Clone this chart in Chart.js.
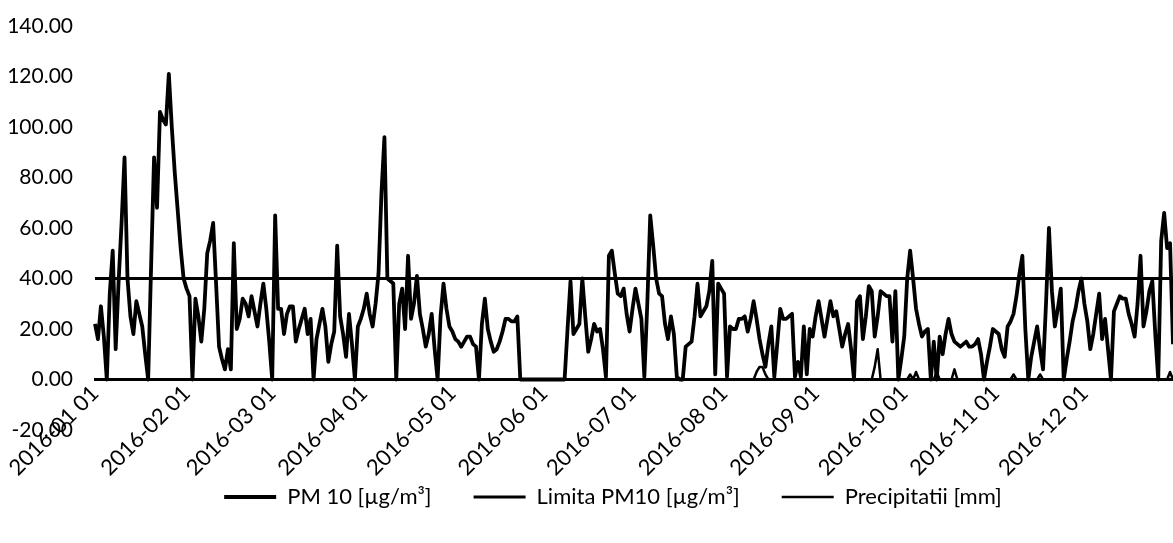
<!DOCTYPE html>
<html lang="ro">
<head>
<meta charset="UTF-8">
<title>PM 10 si precipitatii 2016</title>
<script src="https://cdn.jsdelivr.net/npm/chart.js"></script>
<style>
  body { margin: 0; background: #fff; }
  #wrap { width: 1173px; height: 543px; }
</style>
</head>
<body>
<div id="wrap"><canvas id="chart"></canvas></div>
<script>
// daily PM10 concentration, 2016-01-01 .. 2016-12-31
const pm10 = [
  22,16,29,17,0,34,51,12,39,62,
  88,40,25,18,31,26,21,10,0,45,
  88,68,106,103,101,121,100,82,67,52,
  40,36,33,0,32,25,15,28,50,55,
  62,38,13,8,4,12,4,54,20,24,
  32,30,25,33,27,21,30,38,28,15,
  0,65,28,28,18,26,29,29,15,20,
  24,28,18,24,0,16,22,28,21,7,
  14,19,53,25,18,9,26,14,0,21,
  24,28,34,26,21,30,42,74,96,40,
  39,38,0,30,36,20,49,24,30,41,
  26,20,13,18,26,12,0,25,38,28,
  21,19,16,15,13,15,17,17,14,13,
  0,22,32,20,15,11,12,15,19,24,
  24,23,23,25,0,0,0,0,0,0,
  0,0,0,0,0,0,0,0,0,0,
  20,39,18,20,22,40,25,11,16,22,
  19,20,12,1,49,51,42,34,33,36,
  26,19,28,36,30,24,1,30,65,53,
  40,34,33,22,16,25,18,1,0,0,
  13,14,15,25,38,25,27,29,35,47,
  2,38,36,34,1,21,20,20,24,24,
  25,19,24,31,24,16,10,5,14,21,
  1,14,28,24,24,25,26,1,7,1,
  21,2,20,17,25,31,24,17,24,31,
  25,27,20,13,18,22,12,0,31,33,
  16,25,37,35,17,25,35,34,33,33,
  15,35,0,8,17,40,51,40,28,22,
  17,19,20,0,15,0,17,10,18,24,
  18,15,14,13,14,15,13,13,14,16,
  10,0,7,13,20,19,18,12,9,21,
  23,26,33,42,49,20,0,9,15,21,
  12,4,30,60,35,21,28,36,0,8,
  15,23,28,35,40,30,23,12,18,26,
  34,16,24,12,0,27,30,33,32,32,
  26,22,17,30,49,21,27,35,39,18,
  0,55,66,52,54,14
];

// daily precipitation [mm]
const precip = [
  0,0,0,0,0,0,0,0,0,0, 0,0,0,0,0,0,0,0,0,0,
  0,0,0,0,0,0,0,0,0,0, 0,0,0,0,0,0,0,0,0,0,
  0,0,0,0,0,0,0,0,0,0, 0,0,0,0,0,0,0,0,0,0,
  0,0,0,0,0,0,0,0,0,0, 0,0,0,0,0,0,0,0,0,0,
  0,0,0,0,0,0,0,0,0,0, 0,0,0,0,0,0,0,0,0,0,
  0,0,0,0,0,0,0,0,0,0, 0,0,0,0,0,0,0,0,0,0,
  0,0,0,0,0,0,0,0,0,0, 0,0,0,0,0,0,0,0,0,0,
  0,0,0,0,0,0,0,0,0,0, 0,0,0,0,0,0,0,0,0,0,
  0,0,0,0,0,0,0,0,0,0, 0,0,0,0,0,0,0,0,0,0,
  0,0,0,0,0,0,0,0,0,0, 0,0,0,0,0,0,0,0,0,0,
  0,0,0,0,0,0,0,0,0,0, 0,0,0,0,0,0,0,0,0,0,
  0,0,0,0,3,5,5,2,0,0, 0,0,0,0,0,0,0,0,0,0,
  0,0,0,0,0,0,0,0,0,0, 0,0,0,0,0,0,0,0,0,0,
  0,0,0,0,5,12,0,0,0,0, 0,0,0,0,0,0,2,0,3,0,
  0,0,0,0,0,3,0,0,0,0, 0,4,0,0,0,0,0,0,0,0,
  0,0,0,0,0,0,0,0,0,0, 0,2,0,0,0,0,0,0,0,0,
  2,0,0,0,0,0,0,0,0,0, 0,0,0,0,0,0,0,0,0,0,
  0,0,0,0,0,0,0,0,0,0, 0,0,0,0,0,0,0,0,0,0,
  0,0,0,0,3,0
];

const limitValue = 40;
const yTicks = { min: -20, max: 140, step: 20 };
const seriesNames = ['PM 10 [µg/m³]', 'Limita PM10 [µg/m³]', 'Precipitatii [mm]'];

// one category per day of 2016
const days = [];
for (let d = new Date(Date.UTC(2016, 0, 1)); d.getUTCFullYear() === 2016; d.setUTCDate(d.getUTCDate() + 1)) {
  days.push(d.toISOString().slice(0, 10));
}

// nudge the legend row to the right so it sits under the plot
const legendShift = {
  id: 'legendShift',
  afterLayout(chart) { chart.legend.left += 45; }
};

Chart.defaults.font.family = 'Lato, "Open Sans", sans-serif';
Chart.defaults.color = '#000';

new Chart(document.getElementById('chart'), {
  type: 'line',
  data: {
    labels: days,
    datasets: [
      { label: seriesNames[0], data: pm10, borderColor: '#000', backgroundColor: '#000',
        borderWidth: 3.8, pointRadius: 0, pointStyle: 'line', borderJoinStyle: 'round' },
      { label: seriesNames[1], data: days.map(() => limitValue), borderColor: '#000', backgroundColor: '#000',
        borderWidth: 3, pointRadius: 0, pointStyle: 'line' },
      { label: seriesNames[2], data: precip, borderColor: '#000', backgroundColor: '#000',
        borderWidth: 2.5, pointRadius: 0, pointStyle: 'line', borderJoinStyle: 'round' }
    ]
  },
  options: {
    responsive: true,
    maintainAspectRatio: false,
    animation: false,
    events: [],
    layout: { padding: { left: 8, top: 26, right: 0, bottom: 25 } },
    scales: {
      x: {
        type: 'category',
        position: { y: 0 },
        grid: { display: false, drawTicks: false },
        border: { display: true, color: '#000', width: 3 },
        ticks: {
          autoSkip: false,
          minRotation: 45,
          maxRotation: 45,
          padding: 1,
          font: { size: 22 },
          callback: (val, i) => days[i].endsWith('-01') ? days[i].slice(0, 7) + ' 01' : ''
        },
        afterFit: s => { s.paddingLeft = 0; s.paddingRight = 0; }
      },
      y: {
        min: yTicks.min,
        max: yTicks.max,
        grid: { display: false, drawTicks: false },
        border: { display: false },
        ticks: {
          stepSize: yTicks.step,
          padding: 22,
          font: { size: 21 },
          callback: v => v.toFixed(2)
        },
        afterFit: s => { s.width = 87; s.paddingTop = 0; s.paddingBottom = 0; }
      }
    },
    plugins: {
      tooltip: { enabled: false },
      legend: {
        position: 'bottom',
        title: { display: true, text: '', font: { size: 8, lineHeight: 1 }, padding: 3 },
        labels: {
          usePointStyle: true,
          pointStyleWidth: 52,
          padding: 42,
          font: { size: 22 },
          color: '#000'
        }
      }
    }
  },
  plugins: [legendShift]
});
</script>
</body>
</html>
